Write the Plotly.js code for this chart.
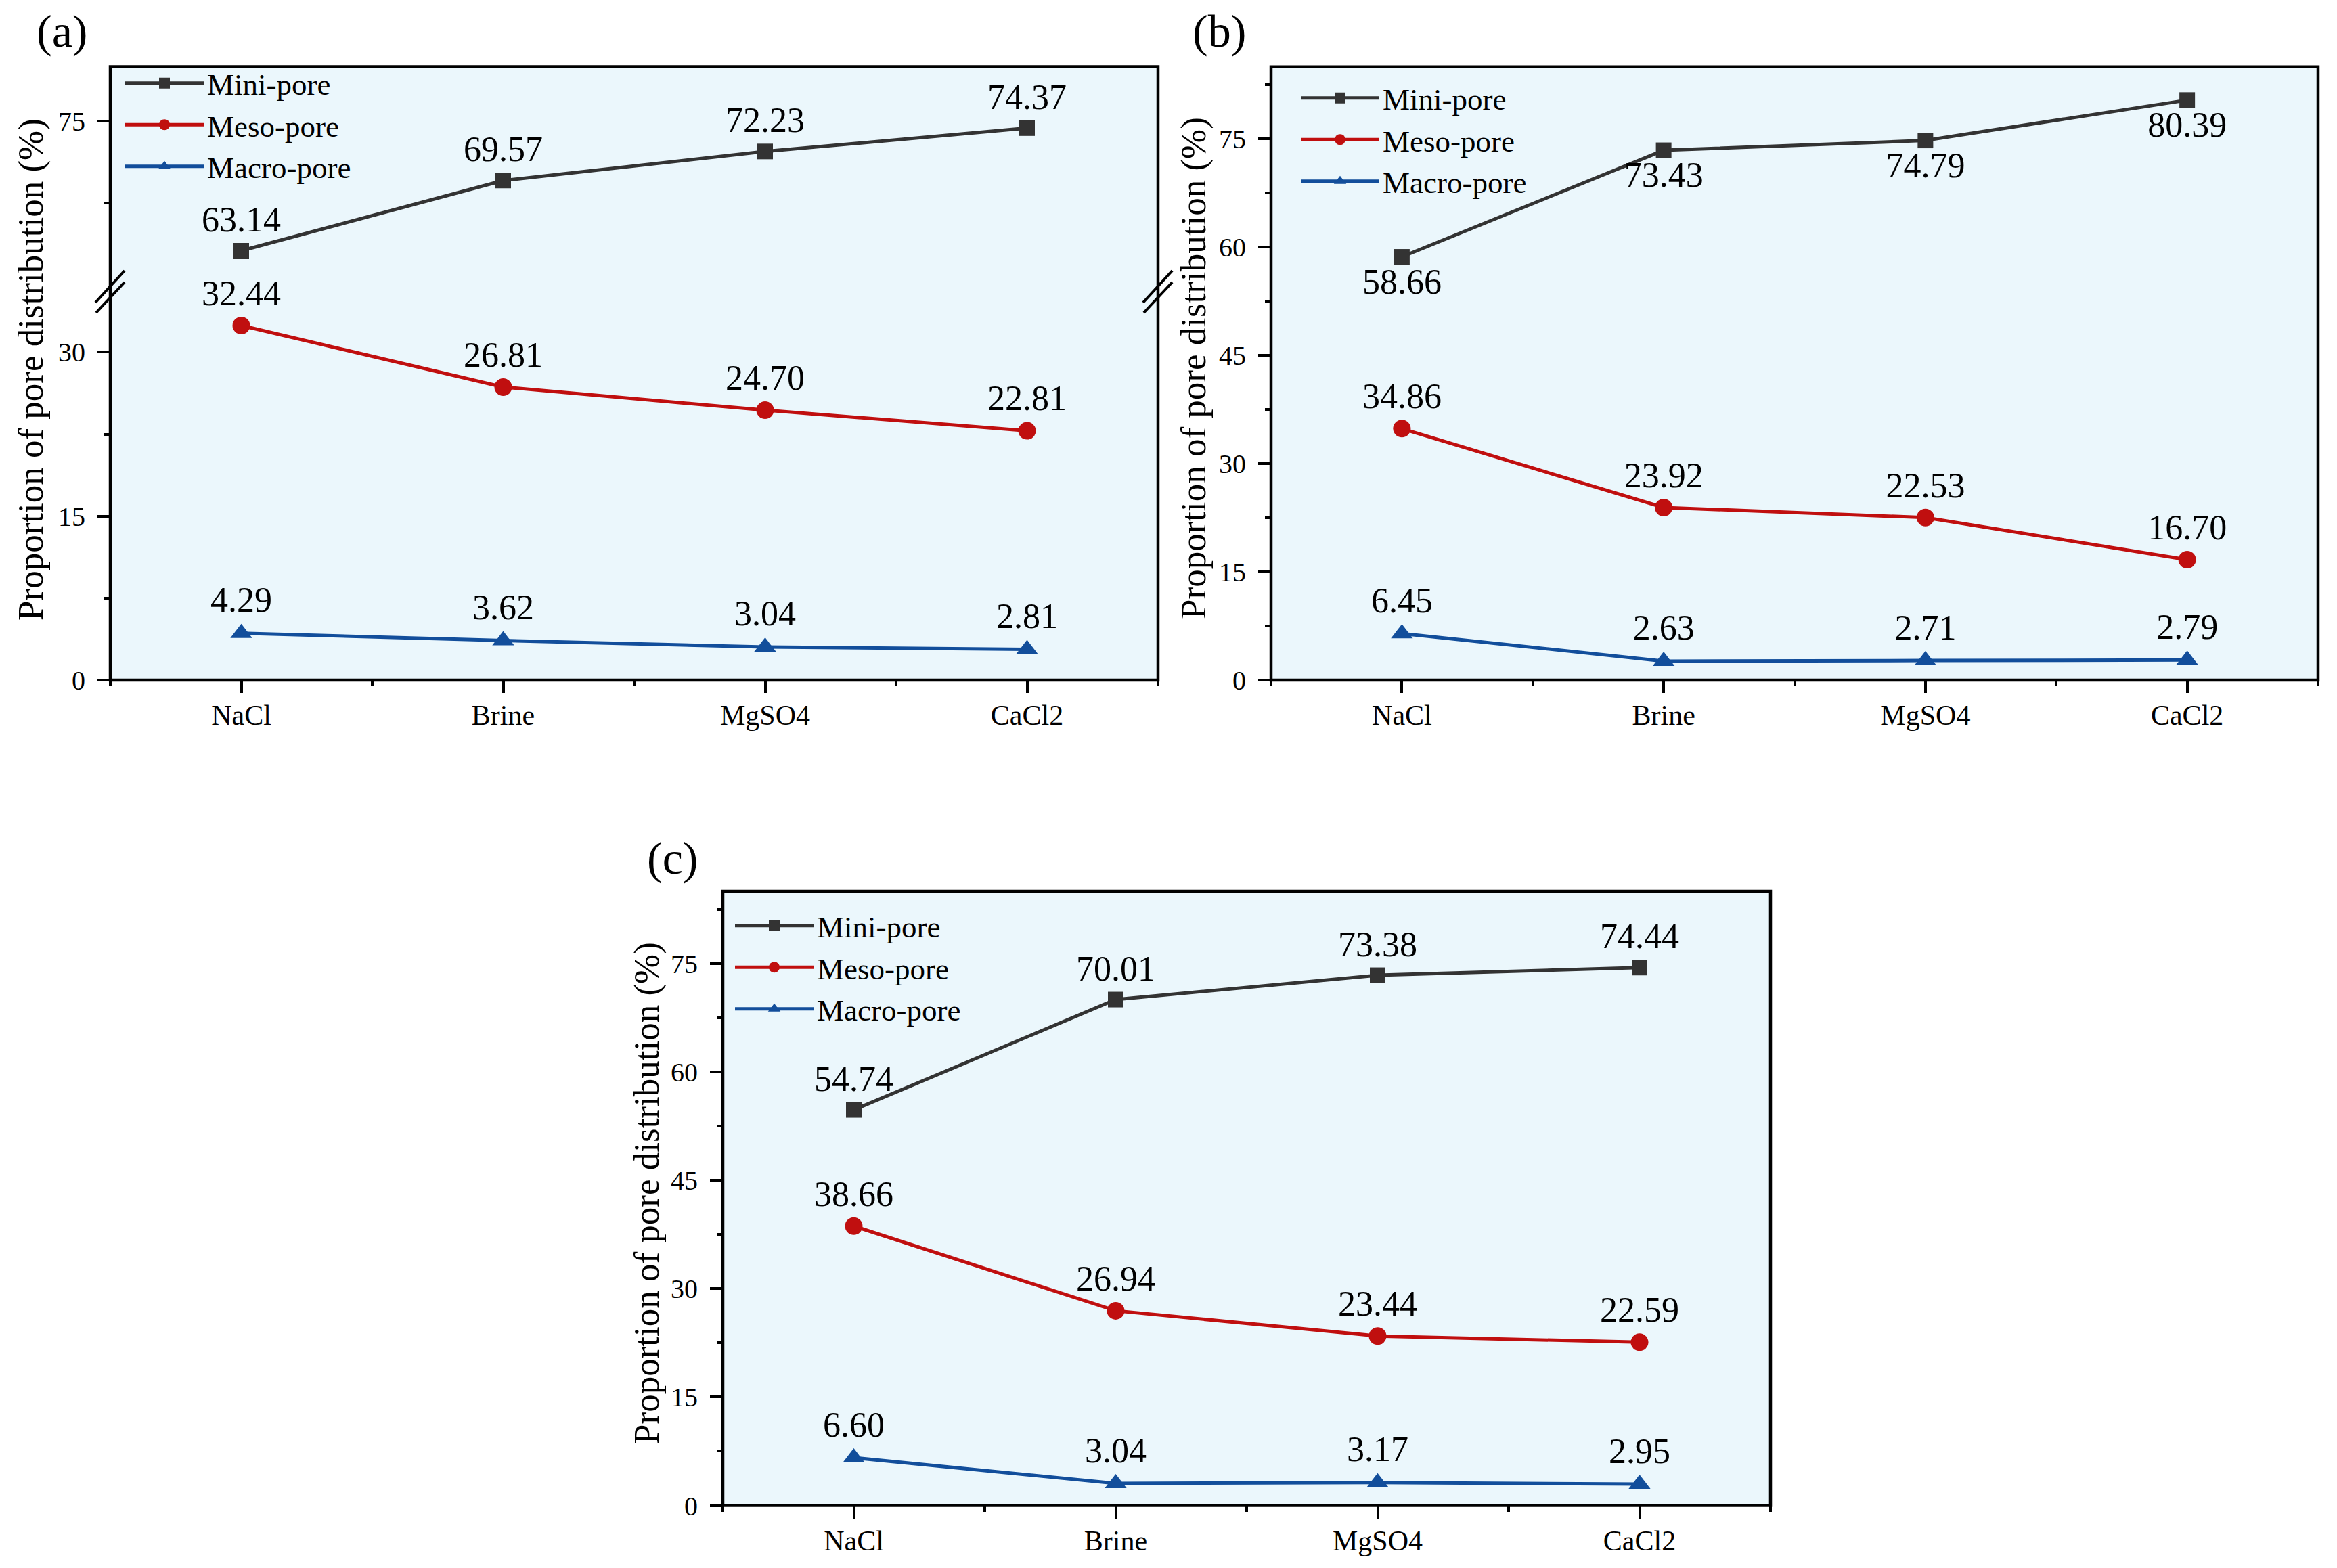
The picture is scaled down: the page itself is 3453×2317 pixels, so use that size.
<!DOCTYPE html>
<html>
<head>
<meta charset="utf-8">
<script src="https://cdn.plot.ly/plotly-3.0.1.min.js"></script>
<style>html,body{margin:0;padding:0;background:#ffffff;}</style>
</head>
<body>
<div id="chart" style="width:3453px;height:2317px;"></div>
<script>
// ---------------- data ----------------
const categories = ['NaCl', 'Brine', 'MgSO4', 'CaCl2'];
const seriesNames = ['Mini-pore', 'Meso-pore', 'Macro-pore'];

const a_mini  = [63.14, 69.57, 72.23, 74.37];
const a_meso  = [32.44, 26.81, 24.70, 22.81];
const a_macro = [4.29, 3.62, 3.04, 2.81];

const b_mini  = [58.66, 73.43, 74.79, 80.39];
const b_meso  = [34.86, 23.92, 22.53, 16.70];
const b_macro = [6.45, 2.63, 2.71, 2.79];

const c_mini  = [54.74, 70.01, 73.38, 74.44];
const c_meso  = [38.66, 26.94, 23.44, 22.59];
const c_macro = [6.60, 3.04, 3.17, 2.95];

const yTitle = 'Proportion of pore distribution (%)';
const panelLabels = ['(a)', '(b)', '(c)'];

// ---------------- styling ----------------
const W = 3453, H = 2317;
const fx = p => p / W;
const fy = p => 1 - p / H;
const FONT = 'Liberation Serif, Times New Roman, serif';
const BG = '#EBF7FC';
const colors  = ['#333333', '#C00F0F', '#124E9B'];
const symbols = ['square', 'circle', 'triangle-up'];
const msizes  = [23, 26, 28];
const xIdx = categories.map((c, i) => i);

function makeTraces(values, k, xa, ya, legendId, textpos) {
  const line = {
    type: 'scatter', mode: 'lines+markers', name: seriesNames[k],
    x: xIdx, y: values, xaxis: xa, yaxis: ya, legend: legendId,
    line: {color: colors[k], width: 5},
    marker: {symbol: symbols[k], size: msizes[k], color: colors[k], line: {width: 0}},
    cliponaxis: false, hoverinfo: 'skip'
  };
  const text = {
    type: 'scatter', mode: 'markers+text', showlegend: false,
    x: xIdx, y: values, xaxis: xa, yaxis: ya,
    text: values.map(v => v.toFixed(2)), textposition: textpos,
    textfont: {family: FONT, size: 52, color: '#000000'},
    marker: {symbol: symbols[k], size: msizes[k], color: colors[k], opacity: 0},
    cliponaxis: false, hoverinfo: 'skip'
  };
  return [line, text];
}

let traces = [];
// panel (a) : broken axis, Mini-pore in upper part
traces = traces.concat(makeTraces(a_mini, 0, 'x2', 'y2', 'legend', 'top center'));
traces = traces.concat(makeTraces(a_meso, 1, 'x', 'y', 'legend', 'top center'));
traces = traces.concat(makeTraces(a_macro, 2, 'x', 'y', 'legend', 'top center'));
// panel (b)
traces = traces.concat(makeTraces(b_mini, 0, 'x3', 'y3', 'legend2', 'bottom center'));
traces = traces.concat(makeTraces(b_meso, 1, 'x3', 'y3', 'legend2', 'top center'));
traces = traces.concat(makeTraces(b_macro, 2, 'x3', 'y3', 'legend2', 'top center'));
// panel (c)
traces = traces.concat(makeTraces(c_mini, 0, 'x4', 'y4', 'legend3', 'top center'));
traces = traces.concat(makeTraces(c_meso, 1, 'x4', 'y4', 'legend3', 'top center'));
traces = traces.concat(makeTraces(c_macro, 2, 'x4', 'y4', 'legend3', 'top center'));

const tickBase = {
  ticks: 'outside', ticklen: 18, tickwidth: 4, tickcolor: '#000000',
  showgrid: false, zeroline: false, showline: false, fixedrange: true
};
function xAxis(domain, anchor) {
  return Object.assign({}, tickBase, {
    type: 'linear', domain: domain, anchor: anchor, range: [-0.5, 3.5],
    tickmode: 'array', tickvals: xIdx, ticktext: categories,
    tickfont: {family: FONT, size: 42, color: '#000000'}, ticklabelstandoff: -3,
    minor: {tickmode: 'array', tickvals: [-0.5, 0.5, 1.5, 2.5, 3.5], ticks: 'outside',
            ticklen: 8, tickwidth: 4, tickcolor: '#000000', showgrid: false}
  });
}
function yAxis(domain, anchor, range, major, minor) {
  return Object.assign({}, tickBase, {
    domain: domain, anchor: anchor, range: range,
    tickmode: 'array', tickvals: major,
    tickfont: {family: FONT, size: 40, color: '#000000'}, ticklabelstandoff: 10,
    minor: {tickmode: 'array', tickvals: minor, ticks: 'outside',
            ticklen: 8, tickwidth: 4, tickcolor: '#000000', showgrid: false}
  });
}

const A = {l: 163, r: 1711, t: 98.5, b: 1005, brk: 430};
const B = {l: 1878, r: 3425, t: 98.7, b: 1005};
const C = {l: 1068, r: 2616, t: 1317, b: 2224.5};

const fullMajor = [0, 15, 30, 45, 60, 75];
const fullMinor = [7.5, 22.5, 37.5, 52.5, 67.5, 82.5];

function legendAt(xp, yp) {
  return {x: fx(xp), y: fy(yp), xanchor: 'left', yanchor: 'top', bgcolor: 'rgba(0,0,0,0)', borderwidth: 0,
          font: {family: FONT, size: 45, color: '#000000'}, itemwidth: 116, tracegroupgap: 0};
}

const layout = {
  width: W, height: H,
  margin: {l: 0, r: 0, t: 0, b: 0, pad: 0},
  paper_bgcolor: '#ffffff', plot_bgcolor: BG,
  font: {family: FONT, color: '#000000'},
  showlegend: true,
  xaxis: xAxis([fx(A.l), fx(A.r)], 'y'),
  yaxis: yAxis([fy(A.b), fy(A.brk)], 'x', [0, 35.6], [0, 15, 30], [7.5, 22.5]),
  xaxis2: Object.assign(xAxis([fx(A.l), fx(A.r)], 'y2'), {matches: 'x', ticks: '', showticklabels: false, minor: {ticks: ''}}),
  yaxis2: yAxis([fy(A.brk), fy(A.t)], 'x2', [59.45, 80], [75], [67.5]),
  xaxis3: xAxis([fx(B.l), fx(B.r)], 'y3'),
  yaxis3: yAxis([fy(B.b), fy(B.t)], 'x3', [0, 85], fullMajor, fullMinor),
  xaxis4: xAxis([fx(C.l), fx(C.r)], 'y4'),
  yaxis4: yAxis([fy(C.b), fy(C.t)], 'x4', [0, 85], fullMajor, fullMinor),
  legend:  legendAt(180, 87),
  legend2: legendAt(1917, 109),
  legend3: legendAt(1081, 1332),
  shapes: [],
  annotations: []
};

// frames
[A, B, C].forEach(P => {
  layout.shapes.push({type: 'rect', xref: 'paper', yref: 'paper', layer: 'above',
    x0: fx(P.l), x1: fx(P.r), y0: fy(P.b), y1: fy(P.t),
    line: {color: '#000000', width: 4.5}, fillcolor: 'rgba(0,0,0,0)'});
});
// axis break marks on panel (a), left and right
[A.l, A.r].forEach(xp => {
  [[-22, 447, 21, 400], [-21, 462, 21, 417]].forEach(s => {
    layout.shapes.push({type: 'line', xref: 'paper', yref: 'paper', layer: 'above',
      x0: fx(xp + s[0]), y0: fy(s[1]), x1: fx(xp + s[2]), y1: fy(s[3]),
      line: {color: '#000000', width: 4}});
  });
});
// y titles
[[45, 546], [1763, 544], [955, 1763]].forEach(p => {
  layout.annotations.push({text: yTitle, xref: 'paper', yref: 'paper', x: fx(p[0]), y: fy(p[1]),
    xanchor: 'center', yanchor: 'middle', textangle: -90, showarrow: false,
    font: {family: FONT, size: 53, color: '#000000'}});
});
// panel labels
[[91, 46], [1801, 46], [993, 1268]].forEach((p, i) => {
  layout.annotations.push({text: panelLabels[i], xref: 'paper', yref: 'paper', x: fx(p[0]), y: fy(p[1]),
    xanchor: 'center', yanchor: 'middle', showarrow: false,
    font: {family: FONT, size: 68, color: '#000000'}});
});

Plotly.newPlot('chart', traces, layout, {displayModeBar: false, staticPlot: true});
</script>
</body>
</html>
